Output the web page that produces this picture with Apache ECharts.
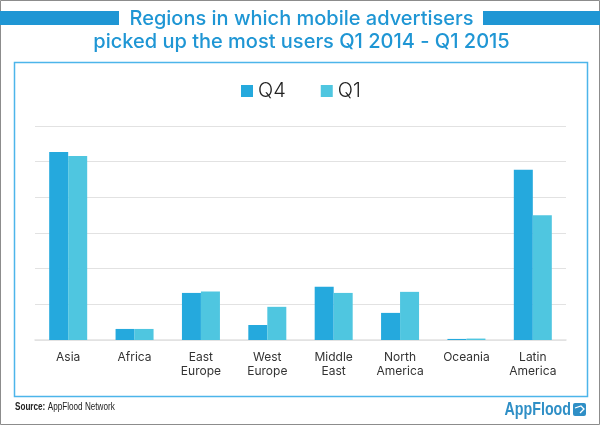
<!DOCTYPE html>
<html>
<head>
<meta charset="utf-8">
<style>
	html, body { margin: 0; padding: 0; background: #fff; }
	#main { width: 600px; height: 425px; }
</style>
<script src="https://cdn.jsdelivr.net/npm/echarts@6/dist/echarts.min.js"></script>
</head>
<body>
<div id="main"></div>
<script>
const categories = ["Asia", "Africa", "East\nEurope", "West\nEurope", "Middle\nEast", "North\nAmerica", "Oceania", "Latin\nAmerica"];
const q4Values = [5.27, 0.31, 1.32, 0.42, 1.49, 0.76, 0.03, 4.77];
const q1Values = [5.16, 0.31, 1.36, 0.93, 1.32, 1.35, 0.04, 3.5];
const titleLines = ["Regions in which mobile advertisers", "picked up the most users Q1 2014 - Q1 2015"];

const FONT = "Inter, 'Open Sans', sans-serif";
const SANS = "'Liberation Sans', sans-serif";
const BLUE = "#1f96d4";

const chart = echarts.init(document.getElementById("main"), null, { renderer: "canvas" });

const option = {
	animation: false,
	backgroundColor: "#fff",
	grid: { left: 35, right: 34, top: 126, bottom: 85 },
	legend: {
		left: 241,
		top: 81,
		padding: 0,
		itemWidth: 12,
		itemHeight: 12,
		itemGap: 35,
		icon: "rect",
		textStyle: { fontFamily: FONT, fontSize: 20, fontWeight: 300, color: "#222" },
		data: ["Q4", "Q1"],
	},
	xAxis: {
		type: "category",
		data: categories,
		axisLine: { lineStyle: { color: "#e2e2e2", width: 1.5 } },
		axisTick: { show: false },
		axisLabel: { fontFamily: FONT, fontSize: 12, color: "#333", margin: 10, lineHeight: 14, interval: 0 },
	},
	yAxis: {
		type: "value",
		min: 0,
		max: 6,
		interval: 1,
		axisLine: { show: false },
		axisTick: { show: false },
		axisLabel: { show: false },
		splitLine: { lineStyle: { color: "#e2e2e2", width: 1.2 } },
	},
	series: [
		{ name: "Q4", type: "bar", data: q4Values, barWidth: 19, barGap: 0, itemStyle: { color: "#25a9dd" } },
		{ name: "Q1", type: "bar", data: q1Values, barWidth: 19, barGap: 0, itemStyle: { color: "#4fc6e0" } },
	],
	graphic: [
		// page border and chart frame
		{ type: "rect", silent: true, z: -2, shape: { x: 0.5, y: 0.5, width: 599, height: 424 }, style: { fill: "#fff", stroke: "#8c8c8c", lineWidth: 1 } },
		{ type: "rect", silent: true, z: -1, shape: { x: 14.5, y: 62.5, width: 573, height: 334 }, style: { fill: "#fff", stroke: "#4cb5ea", lineWidth: 1.5 } },
		// title bands
		{ type: "rect", silent: true, shape: { x: 0, y: 11, width: 119, height: 14 }, style: { fill: BLUE } },
		{ type: "rect", silent: true, shape: { x: 483, y: 11, width: 117, height: 14 }, style: { fill: BLUE } },
		{ type: "text", silent: true, x: 301.5, y: 18.5, style: { text: titleLines[0], fill: BLUE, font: "500 20px " + FONT, align: "center", verticalAlign: "middle" } },
		{ type: "text", silent: true, x: 301.5, y: 41.5, style: { text: titleLines[1], fill: BLUE, font: "500 20px " + FONT, align: "center", verticalAlign: "middle" } },
		// footer, no narrow font installed so squeeze horizontally
		{
			type: "text",
			silent: true,
			x: 15,
			y: 407,
			scaleX: 0.74,
			style: {
				text: "{b|Source:} {n|AppFlood Network}",
				verticalAlign: "middle",
				rich: {
					b: { fontFamily: SANS, fontWeight: "bold", fontSize: 11, fill: "#222" },
					n: { fontFamily: SANS, fontSize: 11, fill: "#222" },
				},
			},
		},
		{ type: "text", silent: true, x: 571, y: 410, scaleX: 0.75, style: { text: "AppFlood", fill: "#2f8fc6", font: "bold 19px " + SANS, align: "right", verticalAlign: "middle" } },
		{ type: "rect", silent: true, shape: { x: 573, y: 403, width: 13, height: 13, r: 2 }, style: { fill: "#2f8fc6" } },
		{ type: "polyline", silent: true, shape: { points: [[575, 408], [581, 406], [584, 409], [580, 413]] }, style: { fill: "none", stroke: "#fff", lineWidth: 1.3 } },
	],
};

chart.setOption(option, true);
</script>
</body>
</html>
